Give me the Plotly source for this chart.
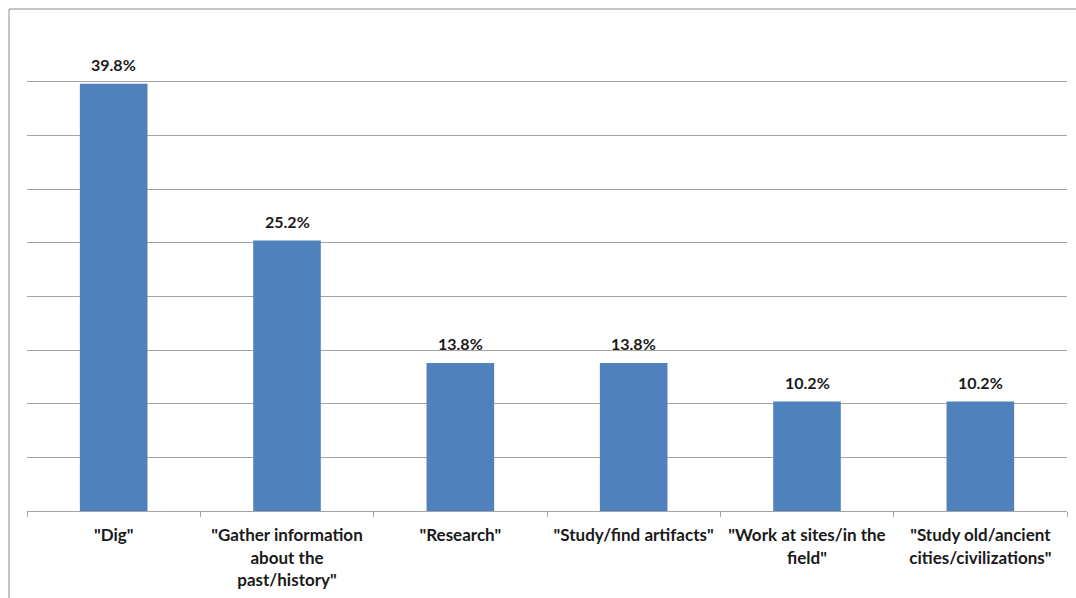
import plotly.graph_objects as go

categories = [
    '"Dig"',
    '"Gather information<br>about the<br>past/history"',
    '"Research"',
    '"Study/find artifacts"',
    '"Work at sites/in the<br>field"',
    '"Study old/ancient<br>cities/civilizations"',
]
values = [39.8, 25.2, 13.8, 13.8, 10.2, 10.2]
value_labels = ["39.8%", "25.2%", "13.8%", "13.8%", "10.2%", "10.2%"]

FONT = "Lato"
GRID = "#a3a3a3"

fig = go.Figure(
    go.Bar(x=categories, y=values, marker=dict(color="#4F81BD", line=dict(width=0)),
           hoverinfo="skip")
)

for c, v, t in zip(categories, values, value_labels):
    fig.add_annotation(x=c, y=v, text=t, showarrow=False, yanchor="bottom", yshift=8,
                       font=dict(family=FONT, size=16, color="#1a1a1a", weight="bold"))

W, H = 1076, 598
L, R, T, B = 27, 9, 28, 87
pw, ph = W - L - R, H - T - B
# outer chart border (top and left), in paper coordinates
bx = (9 - L) / pw
by = (H - B - 9) / ph
fig.add_shape(type="line", xref="paper", yref="paper", x0=bx, x1=(W - L) / pw, y0=by, y1=by,
              line=dict(color="#8c8c8c", width=1))
fig.add_shape(type="line", xref="paper", yref="paper", x0=bx, x1=bx, y0=by, y1=-B / ph,
              line=dict(color="#8c8c8c", width=1))

fig.update_layout(
    width=W, height=H,
    margin=dict(l=L, r=R, t=T, b=B),
    paper_bgcolor="white", plot_bgcolor="white",
    bargap=0.61,
    showlegend=False,
    font=dict(family=FONT, color="#1a1a1a"),
)
fig.update_xaxes(
    showline=True, linecolor=GRID, linewidth=1,
    ticks="outside", ticklen=5, tickcolor=GRID, tickson="boundaries",
    tickfont=dict(family=FONT, size=17, weight="bold", color="#1a1a1a"),
    ticklabelstandoff=9,
    showgrid=False,
)
fig.update_yaxes(
    range=[0, 45], dtick=5, showticklabels=False, showgrid=True, gridcolor=GRID,
    gridwidth=1, zeroline=False, showline=False, ticks="",
)

fig.write_html("out.html", config={"displayModeBar": False})
